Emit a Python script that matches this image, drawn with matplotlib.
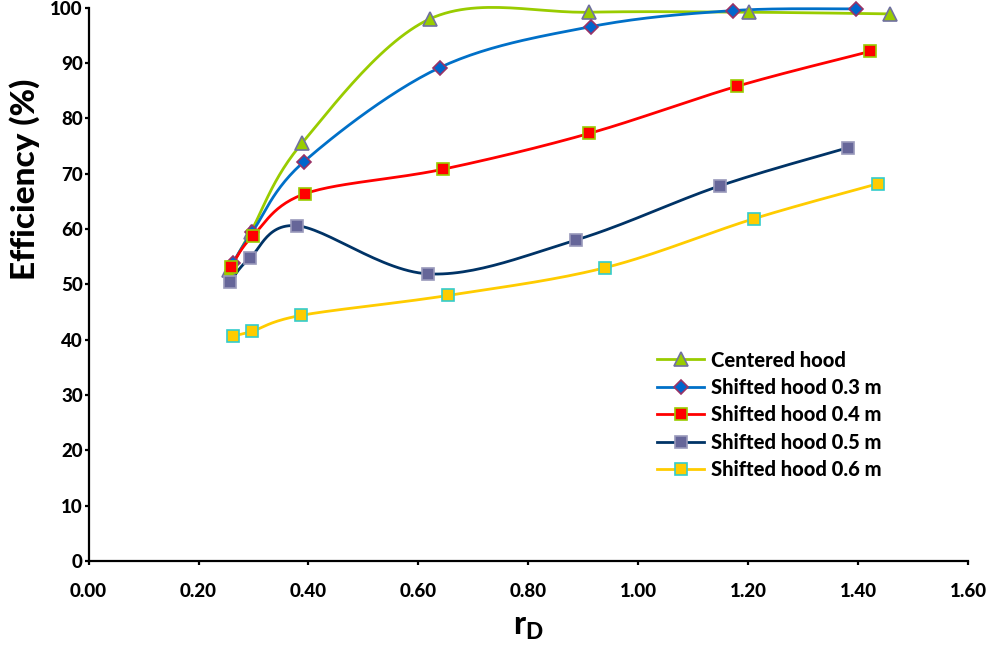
import matplotlib
matplotlib.use("Agg")
import matplotlib.pyplot as plt
import numpy as np

plt.rcParams['font.family'] = ['Lato', 'DejaVu Sans']
plt.rcParams['mathtext.fontset'] = 'custom'
plt.rcParams['mathtext.rm'] = 'Lato:black'
plt.rcParams['mathtext.bf'] = 'Lato:black'

# rD values and efficiency (%) for each hood position
rd_centered = [0.256, 0.295, 0.388, 0.621, 0.911, 1.202, 1.457]
eff_centered = [52.6, 59.5, 75.5, 98.0, 99.2, 99.2, 98.9]

rd_03 = [0.262, 0.298, 0.392, 0.639, 0.914, 1.173, 1.396]
eff_03 = [53.8, 59.5, 72.2, 89.2, 96.6, 99.5, 99.8]

rd_04 = [0.259, 0.299, 0.394, 0.644, 0.911, 1.179, 1.421]
eff_04 = [53.2, 58.8, 66.4, 70.8, 77.3, 85.8, 92.1]

rd_05 = [0.257, 0.293, 0.379, 0.618, 0.886, 1.148, 1.381]
eff_05 = [50.4, 54.7, 60.6, 51.9, 58.0, 67.8, 74.7]

rd_06 = [0.262, 0.297, 0.387, 0.654, 0.939, 1.211, 1.436]
eff_06 = [40.7, 41.5, 44.4, 48.0, 53.0, 61.9, 68.2]


def smooth(x, y, n=30):
    # catmull-rom through the points, like a spreadsheet "smoothed line"
    p = np.column_stack([x, y])
    p = np.vstack([p[0], p, p[-1]])
    out = []
    t = np.linspace(0, 1, n)[:, None]
    for i in range(1, len(p) - 2):
        p0, p1, p2, p3 = p[i - 1], p[i], p[i + 1], p[i + 2]
        c1 = p1 + (p2 - p0) / 6
        c2 = p2 - (p3 - p1) / 6
        seg = ((1 - t) ** 3 * p1 + 3 * (1 - t) ** 2 * t * c1
               + 3 * (1 - t) * t ** 2 * c2 + t ** 3 * p2)
        out.append(seg if i == 1 else seg[1:])
    out = np.vstack(out)
    return out[:, 0], out[:, 1]


series = [
    (rd_centered, eff_centered, 'Centered hood', '#99CC00', '^', '#99CC00', '#7070A0', 9.5),
    (rd_03, eff_03, 'Shifted hood 0.3 m', '#0070C8', 'D', '#0066CC', '#993366', 7),
    (rd_04, eff_04, 'Shifted hood 0.4 m', '#FF0000', 's', '#FF0000', '#99CC00', 8),
    (rd_05, eff_05, 'Shifted hood 0.5 m', '#003366', 's', '#666699', '#9999BB', 8.5),
    (rd_06, eff_06, 'Shifted hood 0.6 m', '#FFCC00', 's', '#FFCC00', '#33CCCC', 8),
]

fig = plt.figure(figsize=(9.95, 6.5), dpi=100)
ax = fig.add_axes([0.089, 0.137, 0.884, 0.851])

for x, y, lab, lc, mk, fc, ec, ms in series:
    sx, sy = smooth(x, y)
    ax.plot(sx, sy, color=lc, linewidth=2, clip_on=False, zorder=2)
    ax.plot(x, y, linestyle='none', marker=mk, markersize=ms,
            markerfacecolor=fc, markeredgecolor=ec, markeredgewidth=1.2,
            clip_on=False, zorder=3)
    ax.plot([], [], color=lc, linewidth=2, marker=mk, markersize=ms,
            markerfacecolor=fc, markeredgecolor=ec, markeredgewidth=1.2,
            label=lab)

ax.set_xlim(0, 1.6)
ax.set_ylim(0, 100)
ax.set_xticks(np.arange(0, 1.61, 0.2))
ax.set_xticklabels(["%.2f" % v for v in np.arange(0, 1.61, 0.2)])
ax.set_yticks(np.arange(0, 101, 10))

for s in ['top', 'right']:
    ax.spines[s].set_visible(False)
for s in ['left', 'bottom']:
    ax.spines[s].set_linewidth(1.6)
ax.tick_params(direction='out', length=3, width=1.6, labelsize=13.5, pad=1)
for t in ax.get_xticklabels() + ax.get_yticklabels():
    t.set_fontweight('black')
ax.tick_params(axis='x', pad=13)

ax.set_ylabel('Efficiency (%)', fontsize=24, fontweight='black')
ax.yaxis.set_label_coords(-0.055, 0.69)
ax.set_xlabel(r'$\mathbf{r_D}$', fontsize=23)
ax.xaxis.set_label_coords(0.5, -0.093)

leg = ax.legend(loc='upper left', bbox_to_anchor=(0.6375, 0.395), frameon=False,
                prop={'weight': 'black', 'size': 14.5}, handlelength=2.3,
                handletextpad=0.35, labelspacing=0.42, borderaxespad=0)

fig.savefig('out.png', dpi=100)
